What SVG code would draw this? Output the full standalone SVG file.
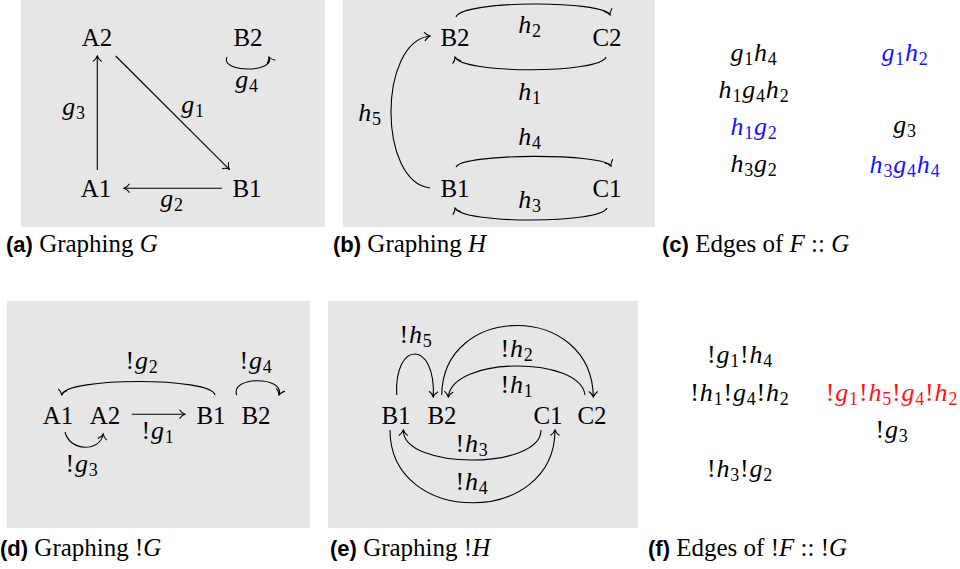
<svg xmlns="http://www.w3.org/2000/svg" width="960" height="569" viewBox="0 0 960 569">
<style>
.bg{fill:#e6e6e6}
text{font-family:"Liberation Serif","DejaVu Serif",serif;font-size:25px;fill:#000}
.nd{text-anchor:middle}
.lb{text-anchor:middle;font-size:26px;letter-spacing:0.8px}
.i{font-style:italic}
.s{font-size:18px}
.e{fill:none;stroke:#000;stroke-width:1.1}
.cap{font-size:25px}
.cb{font-family:"Liberation Sans","DejaVu Sans",sans-serif;font-weight:bold;font-size:22px}
.blue{fill:#1414ff}
.red{fill:#ff1414}
</style>
<defs>
<marker id="ar" viewBox="-7 -6 8 12" markerWidth="8" markerHeight="12" refX="0" refY="0" orient="auto" markerUnits="userSpaceOnUse">
<path d="M-5.5,-4.5 C-3.5,-1.5 -1.2,-0.4 0,0 C-1.2,0.4 -3.5,1.5 -5.5,4.5" fill="none" stroke="#000" stroke-width="1.1"/>
</marker>
</defs>
<rect class="bg" x="21" y="0" width="304" height="227"/>
<rect class="bg" x="343" y="0" width="312" height="227"/>
<rect class="bg" x="7" y="301" width="303" height="227"/>
<rect class="bg" x="328" y="301" width="310" height="227"/>

<!-- Panel a -->
<g id="a-A2"><text class="nd" x="97" y="46">A2</text></g>
<g id="a-B2"><text class="nd" x="248" y="46">B2</text></g>
<g id="a-A1"><text class="nd" x="96" y="197">A1</text></g>
<g id="a-B1"><text class="nd" x="247" y="197">B1</text></g>
<g id="a-edges">
<path class="e" d="M97.3,170 L97.3,56" marker-end="url(#ar)"/>
<path class="e" d="M115.7,56 L229.3,169.3" marker-end="url(#ar)"/>
<path class="e" d="M222,188.3 L124,188.3" marker-end="url(#ar)"/>
<path class="e" d="M227,57 C220,73 276,73 269,57" marker-end="url(#ar)"/>
<text class="lb" x="74" y="115"><tspan class="i">g</tspan><tspan class="s" dy="4">3</tspan></text>
<text class="lb" x="193" y="113"><tspan class="i">g</tspan><tspan class="s" dy="4">1</tspan></text>
<text class="lb" x="172" y="207"><tspan class="i">g</tspan><tspan class="s" dy="4">2</tspan></text>
<text class="lb" x="247" y="88"><tspan class="i">g</tspan><tspan class="s" dy="4">4</tspan></text>
</g>

<!-- Panel b -->
<g id="b-B2"><text class="nd" x="455" y="46">B2</text></g>
<g id="b-C2"><text class="nd" x="607" y="46">C2</text></g>
<g id="b-B1"><text class="nd" x="455" y="197">B1</text></g>
<g id="b-C1"><text class="nd" x="607" y="197">C1</text></g>
<g id="b-edges">
<path class="e" d="M456,17 C462,0 604,0 610,15" marker-end="url(#ar)"/>
<path class="e" d="M606,57 C600,74 461,74 455,57" marker-end="url(#ar)"/>
<path class="e" d="M456,167 C462,153 605,153 611,166" marker-end="url(#ar)"/>
<path class="e" d="M607,208 C601,224 461,224 455,208" marker-end="url(#ar)"/>
<path class="e" d="M430,188 C378,182 378,42 430,36" marker-end="url(#ar)"/>
<text class="lb" x="530" y="33"><tspan class="i">h</tspan><tspan class="s" dy="4">2</tspan></text>
<text class="lb" x="530" y="100"><tspan class="i">h</tspan><tspan class="s" dy="4">1</tspan></text>
<text class="lb" x="530" y="145"><tspan class="i">h</tspan><tspan class="s" dy="4">4</tspan></text>
<text class="lb" x="530" y="208"><tspan class="i">h</tspan><tspan class="s" dy="4">3</tspan></text>
<text class="lb" x="370" y="121"><tspan class="i">h</tspan><tspan class="s" dy="4">5</tspan></text>
</g>

<!-- Panel c -->
<g id="c-list">
<text class="lb" x="754" y="61"><tspan class="i">g</tspan><tspan class="s" dy="4">1</tspan><tspan class="i" dy="-4">h</tspan><tspan class="s" dy="4">4</tspan></text>
<text class="lb blue" x="905" y="61"><tspan class="i">g</tspan><tspan class="s" dy="4">1</tspan><tspan class="i" dy="-4">h</tspan><tspan class="s" dy="4">2</tspan></text>
<text class="lb" x="754" y="98"><tspan class="i">h</tspan><tspan class="s" dy="4">1</tspan><tspan class="i" dy="-4">g</tspan><tspan class="s" dy="4">4</tspan><tspan class="i" dy="-4">h</tspan><tspan class="s" dy="4">2</tspan></text>
<text class="lb blue" x="754" y="135"><tspan class="i">h</tspan><tspan class="s" dy="4">1</tspan><tspan class="i" dy="-4">g</tspan><tspan class="s" dy="4">2</tspan></text>
<text class="lb" x="905" y="133"><tspan class="i">g</tspan><tspan class="s" dy="4">3</tspan></text>
<text class="lb" x="754" y="172"><tspan class="i">h</tspan><tspan class="s" dy="4">3</tspan><tspan class="i" dy="-4">g</tspan><tspan class="s" dy="4">2</tspan></text>
<text class="lb blue" x="905" y="173"><tspan class="i">h</tspan><tspan class="s" dy="4">3</tspan><tspan class="i" dy="-4">g</tspan><tspan class="s" dy="4">4</tspan><tspan class="i" dy="-4">h</tspan><tspan class="s" dy="4">4</tspan></text>
</g>

<!-- Panel d -->
<g id="d-A1"><text class="nd" x="58" y="424">A1</text></g>
<g id="d-A2"><text class="nd" x="105" y="424">A2</text></g>
<g id="d-B1"><text class="nd" x="211" y="424">B1</text></g>
<g id="d-B2"><text class="nd" x="256" y="424">B2</text></g>
<g id="d-edges">
<path class="e" d="M131.7,414.3 L185,414.3" marker-end="url(#ar)"/>
<path class="e" d="M215,395 C212,377 65,377 61.7,395" marker-end="url(#ar)"/>
<path class="e" d="M65,432 C70,452 100,452 103.3,434" marker-end="url(#ar)"/>
<path class="e" d="M236.7,395 C230,376 285,376 279,395" marker-end="url(#ar)"/>
<text class="lb" x="158" y="439">!<tspan class="i">g</tspan><tspan class="s" dy="4">1</tspan></text>
<text class="lb" x="142" y="369">!<tspan class="i">g</tspan><tspan class="s" dy="4">2</tspan></text>
<text class="lb" x="82" y="472">!<tspan class="i">g</tspan><tspan class="s" dy="4">3</tspan></text>
<text class="lb" x="256" y="369">!<tspan class="i">g</tspan><tspan class="s" dy="4">4</tspan></text>
</g>

<!-- Panel e -->
<g id="e-B1"><text class="nd" x="396" y="424">B1</text></g>
<g id="e-B2"><text class="nd" x="442" y="424">B2</text></g>
<g id="e-C1"><text class="nd" x="548" y="424">C1</text></g>
<g id="e-C2"><text class="nd" x="592" y="424">C2</text></g>
<g id="e-edges">
<path class="e" d="M396.7,395 C394,340 436,340 433.3,397" marker-end="url(#ar)"/>
<path class="e" d="M441.7,395 C443,302 592,302 593.3,397" marker-end="url(#ar)"/>
<path class="e" d="M585,395 C580,356 452,356 448.3,397" marker-end="url(#ar)"/>
<path class="e" d="M541,430 C541,470 403,470 403.3,430" marker-end="url(#ar)"/>
<path class="e" d="M390,430 C390,527 555,527 555,430" marker-end="url(#ar)"/>
<text class="lb" x="416" y="343">!<tspan class="i">h</tspan><tspan class="s" dy="4">5</tspan></text>
<text class="lb" x="517" y="357">!<tspan class="i">h</tspan><tspan class="s" dy="4">2</tspan></text>
<text class="lb" x="517" y="393">!<tspan class="i">h</tspan><tspan class="s" dy="4">1</tspan></text>
<text class="lb" x="472" y="452">!<tspan class="i">h</tspan><tspan class="s" dy="4">3</tspan></text>
<text class="lb" x="472" y="490">!<tspan class="i">h</tspan><tspan class="s" dy="4">4</tspan></text>
</g>

<!-- Panel f -->
<g id="f-list">
<text class="lb" x="740" y="363">!<tspan class="i">g</tspan><tspan class="s" dy="4">1</tspan><tspan dy="-4">!</tspan><tspan class="i">h</tspan><tspan class="s" dy="4">4</tspan></text>
<text class="lb" x="740" y="401">!<tspan class="i">h</tspan><tspan class="s" dy="4">1</tspan><tspan dy="-4">!</tspan><tspan class="i">g</tspan><tspan class="s" dy="4">4</tspan><tspan dy="-4">!</tspan><tspan class="i">h</tspan><tspan class="s" dy="4">2</tspan></text>
<text class="lb red" x="892" y="401">!<tspan class="i">g</tspan><tspan class="s" dy="4">1</tspan><tspan dy="-4">!</tspan><tspan class="i">h</tspan><tspan class="s" dy="4">5</tspan><tspan dy="-4">!</tspan><tspan class="i">g</tspan><tspan class="s" dy="4">4</tspan><tspan dy="-4">!</tspan><tspan class="i">h</tspan><tspan class="s" dy="4">2</tspan></text>
<text class="lb" x="892" y="438">!<tspan class="i">g</tspan><tspan class="s" dy="4">3</tspan></text>
<text class="lb" x="740" y="477">!<tspan class="i">h</tspan><tspan class="s" dy="4">3</tspan><tspan dy="-4">!</tspan><tspan class="i">g</tspan><tspan class="s" dy="4">2</tspan></text>
</g>

<!-- Captions -->
<g id="captions">
<text class="cap" x="6" y="252"><tspan class="cb">(a)</tspan> Graphing <tspan class="i">G</tspan></text>
<text class="cap" x="333" y="252"><tspan class="cb">(b)</tspan> Graphing <tspan class="i">H</tspan></text>
<text class="cap" x="662" y="252"><tspan class="cb">(c)</tspan> Edges of <tspan class="i">F</tspan> :: <tspan class="i">G</tspan></text>
<text class="cap" x="0" y="556"><tspan class="cb">(d)</tspan> Graphing !<tspan class="i">G</tspan></text>
<text class="cap" x="330" y="556"><tspan class="cb">(e)</tspan> Graphing !<tspan class="i">H</tspan></text>
<text class="cap" x="648" y="556"><tspan class="cb">(f)</tspan> Edges of !<tspan class="i">F</tspan> :: !<tspan class="i">G</tspan></text>
</g>
</svg>
